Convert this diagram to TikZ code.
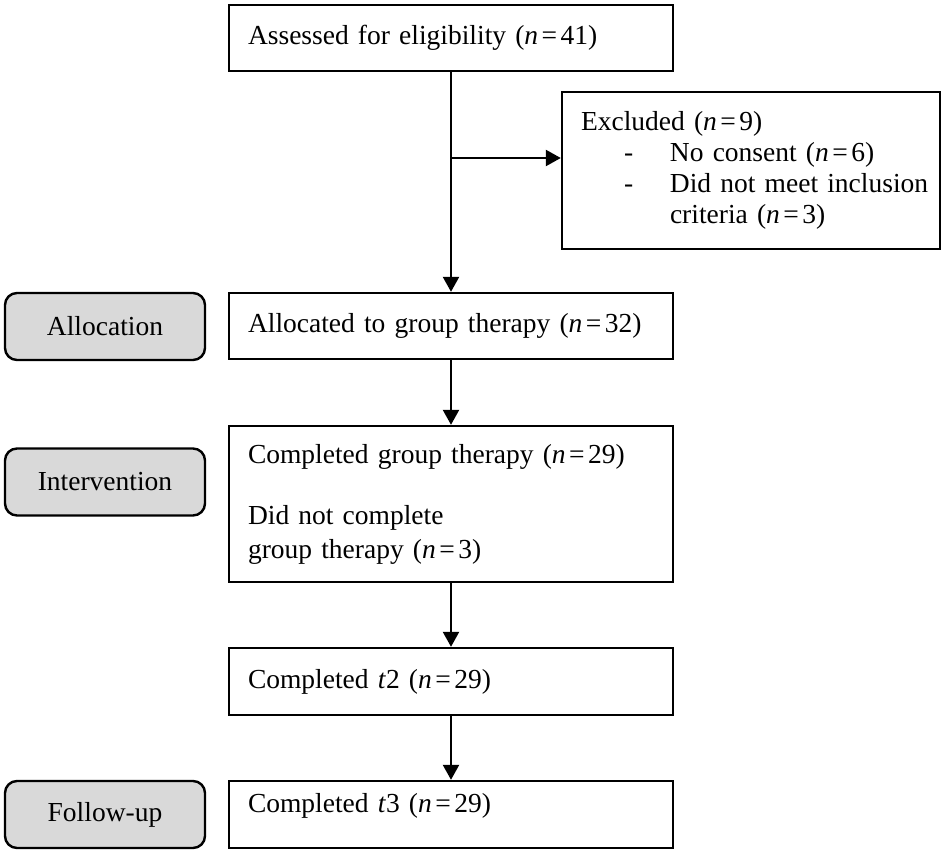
\documentclass[tikz,border=0pt]{standalone}
\usepackage{fontspec}
\setmainfont{Liberation Serif}
\usetikzlibrary{arrows.meta}
\definecolor{phasegray}{HTML}{D9D9D9}
\newcommand\nval[1]{(\textit{n}\hspace{3.5pt}=\hspace{3.5pt}#1)}
\tikzset{
  flowbox/.style={draw=black, line width=2.4pt, rectangle, align=left,
    inner xsep=19pt, inner ysep=0pt, font=\fontsize{27.5}{31}\selectfont},
  phasebox/.style={draw=black, line width=2.4pt, rectangle, rounded corners=12pt,
    fill=phasegray, minimum width=200pt, minimum height=67pt,
    font=\fontsize{27.5}{31}\selectfont},
  flowarrow/.style={line width=2.4pt, -{Triangle[length=15pt,width=16pt]}}
}
\begin{document}
\begin{tikzpicture}[x=1pt,y=-1pt]
\useasboundingbox (0,0) rectangle (945,853);
\fill[white] (0,0) rectangle (945,853);

\node[flowbox, text width=406pt, minimum height=66pt] (b1) at (451,38)
  {Assessed for eligibility \nval{41}};
\node[flowbox, inner xsep=8pt, text width=362pt, minimum height=157pt] (excl) at (751,170.5)
  {\hspace*{11pt}Excluded \nval{9}\\
   \hspace*{54pt}\makebox[46pt][l]{-}No consent \nval{6}\\
   \hspace*{54pt}\makebox[46pt][l]{-}Did not meet inclusion\\
   \hspace*{100pt}criteria \nval{3}};
\node[flowbox, text width=406pt, minimum height=66pt] (alloc) at (451,326)
  {Allocated to group therapy \nval{32}};
\node[flowbox, text width=406pt, minimum height=156pt] (interv) at (451,504)
  {Completed group therapy \nval{29}\\[30pt]
   Did not complete\\[3pt]
   group therapy \nval{3}};
\node[flowbox, text width=406pt, minimum height=67pt] (t2) at (451,681.5)
  {Completed \textit{t}2 \nval{29}};
\node[flowbox, text width=406pt, minimum height=67pt, text height=19pt, text depth=24pt] (t3) at (451,814.5)
  {Completed \textit{t}3 \nval{29}};

\node[phasebox] (palloc) at (105,326.5) {Allocation};
\node[phasebox] (pinterv) at (105,482) {Intervention};
\node[phasebox] (pfollow) at (105,814.5) {Follow-up};

\coordinate (br) at (451,158);
\draw[flowarrow] (b1.south) -- (alloc.north);
\draw[flowarrow] (br) -- (excl.west |- br);
\draw[flowarrow] (alloc.south) -- (interv.north);
\draw[flowarrow] (interv.south) -- (t2.north);
\draw[flowarrow] (t2.south) -- (t3.north);
\end{tikzpicture}
\end{document}
